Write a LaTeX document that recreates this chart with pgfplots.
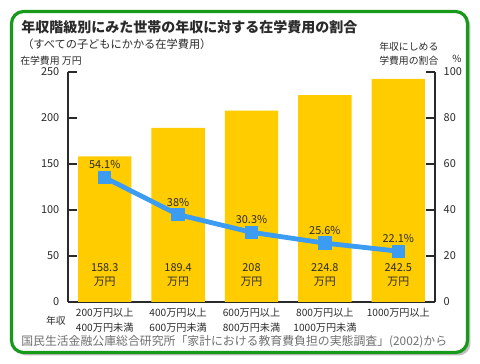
\documentclass[border=0pt]{standalone}
\usepackage{pgfplots}
\pgfplotsset{compat=1.18}
\usepackage{fontspec}
\setmainfont{Noto Sans CJK JP}
\definecolor{barc}{HTML}{FFCC00}
\definecolor{linec}{HTML}{3C9CF2}
\definecolor{frame}{HTML}{17991A}
\definecolor{txt}{HTML}{2A2A2A}
\definecolor{src}{HTML}{707070}
\begin{document}
\begin{tikzpicture}
\begin{scope}[x=0.75pt,y=0.75pt]
\fill[white] (0,0) rectangle (480,364);
\fill[black!25,rounded corners=9pt] (14.5,8.5) rectangle (470.5,349.5);
\draw[frame,line width=2.4pt,fill=white,rounded corners=9pt] (11.5,11.5) rectangle (467.5,352.5);
\node[anchor=west,font=\bfseries\fontsize{10.5pt}{12pt}\selectfont,text=txt,inner sep=0] at (21,337) {年収階級別にみた世帯の年収に対する在学費用の割合};
\node[anchor=west,font=\fontsize{8.4pt}{10pt}\selectfont,text=txt,inner sep=0] at (22,320) {（すべての子どもにかかる在学費用）};
\node[anchor=west,font=\fontsize{7.4pt}{9pt}\selectfont,text=txt,inner sep=0] at (20,303) {在学費用\ 万円};
\node[anchor=south west,align=left,font=\fontsize{7.4pt}{10.5pt}\selectfont,text=txt,inner sep=0] at (379,298) {年収にしめる\\学費用の割合};
\node[anchor=west,font=\fontsize{7.4pt}{9pt}\selectfont,text=txt,inner sep=0] at (452,305) {\%};
\node[anchor=east,font=\fontsize{7.4pt}{9pt}\selectfont,text=txt,inner sep=0] at (66,43) {年収};
\node[anchor=west,font=\fontsize{8.9pt}{10pt}\selectfont,text=src,inner sep=0] at (21,22) {国民生活金融公庫総合研究所「家計における教育費負担の実態調査」(2002)から};
\end{scope}
\begin{axis}[
  at={(51pt,46.5pt)}, anchor=south west,
  scale only axis, width=275.25pt, height=172.5pt,
  xmin=-0.5, xmax=4.5, ymin=0, ymax=250,
  axis y line*=left, axis x line*=bottom,
  axis line style={draw=txt,line width=0.8pt,-},
  tick align=inside,
  major tick length=6.75pt, minor tick length=4.5pt,
  tick style={draw=txt,line width=0.8pt},
  ytick={0,50,100,150,200,250},
  xtick={0,1,2,3,4},
  xtick style={draw=none},
  minor xtick={0.5,1.5,2.5,3.5},
  xticklabels={{200万円以上\\400万円未満},{400万円以上\\600万円未満},{600万円以上\\800万円未満},{800万円以上\\1000万円未満},{1000万円以上}},
  xticklabel style={align=center,font=\fontsize{7.6pt}{11pt}\selectfont,text=txt,anchor=north,yshift=-1pt},
  yticklabel style={font=\fontsize{8.2pt}{10pt}\selectfont,text=txt,xshift=-3pt},
  /pgf/number format/assume math mode=true,
  clip=false,
]
\addplot[ybar, bar width=40pt, fill=barc, draw=none] coordinates {(0,158.3) (1,189.4) (2,208) (3,224.8) (4,242.5)};
\foreach \i/\v in {0/158.3,1/189.4,2/208,3/224.8,4/242.5}{
  \edef\tmp{\noexpand\node[align=center,font=\noexpand\fontsize{8.2pt}{11pt}\noexpand\selectfont,text=txt] at (axis cs:\i,29.5) {\v\noexpand\\万円};}
  \tmp
}
\end{axis}
\begin{axis}[
  at={(51pt,46.5pt)}, anchor=south west,
  scale only axis, width=275.25pt, height=172.5pt,
  xmin=-0.5, xmax=4.5, ymin=0, ymax=100,
  axis y line*=right, axis x line=none,
  axis line style={draw=txt,line width=0.8pt,-},
  tick align=inside,
  major tick length=6.75pt,
  tick style={draw=txt,line width=0.8pt},
  ytick={0,20,40,60,80,100},
  yticklabel style={font=\fontsize{8.2pt}{10pt}\selectfont,text=txt,xshift=3pt},
  /pgf/number format/assume math mode=true,
  clip=false,
]
\addplot[linec, line width=3.6pt, mark=square*, mark size=4.6pt, mark options={line width=0pt,fill=linec},
  nodes near coords, point meta=explicit symbolic,
  every node near coord/.style={font=\fontsize{8.2pt}{10pt}\selectfont,text=txt,anchor=south,yshift=3pt}]
  coordinates {(0,54.1) [54.1\%] (1,38) [38\%] (2,30.3) [30.3\%] (3,25.6) [25.6\%] (4,22.1) [22.1\%]};
\end{axis}
\end{tikzpicture}
\end{document}
